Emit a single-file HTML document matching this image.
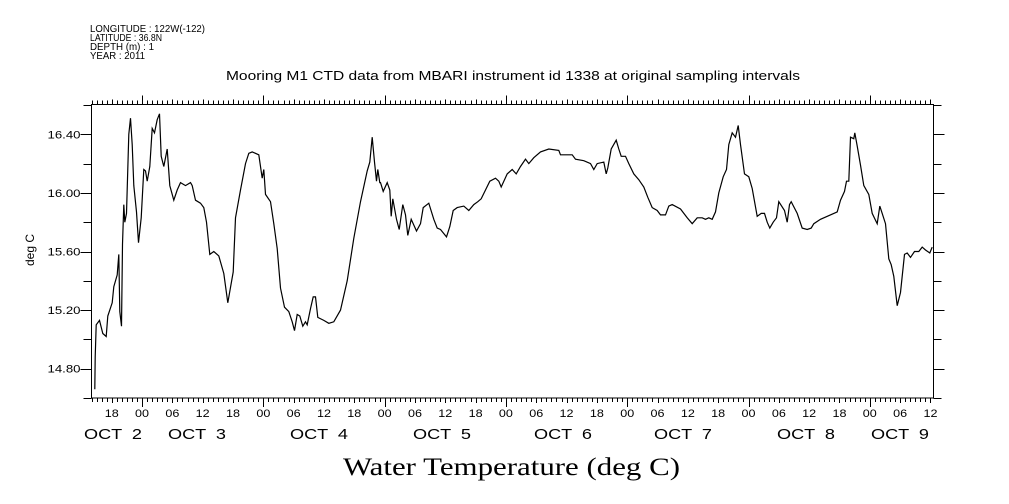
<!DOCTYPE html>
<html><head><meta charset="utf-8"><style>
body{margin:0;background:#fff;}
svg{display:block;}
text{font-family:"Liberation Sans",sans-serif;fill:#000;}
</style></head><body>
<svg id="chart" width="1009" height="504" viewBox="0 0 1009 504" xmlns="http://www.w3.org/2000/svg">
<g font-size="10">
<text x="90" y="32" textLength="115" lengthAdjust="spacingAndGlyphs">LONGITUDE : 122W(-122)</text>
<text x="90" y="41" textLength="72" lengthAdjust="spacingAndGlyphs">LATITUDE : 36.8N</text>
<text x="90" y="50" textLength="64" lengthAdjust="spacingAndGlyphs">DEPTH (m) : 1</text>
<text x="90" y="59" textLength="55" lengthAdjust="spacingAndGlyphs">YEAR : 2011</text>
</g>
<text x="226" y="80" font-size="13" textLength="574" lengthAdjust="spacingAndGlyphs">Mooring M1 CTD data from MBARI instrument id 1338 at original sampling intervals</text>
<text x="0" y="0" font-size="12" text-anchor="middle" transform="translate(34,250) rotate(-90)">deg C</text>
<text x="343" y="475" font-size="25" textLength="337" lengthAdjust="spacingAndGlyphs" style="font-family:'Liberation Serif',serif">Water Temperature (deg C)</text>
<rect x="91.5" y="104.5" width="842" height="293.5" fill="none" stroke="#000" stroke-width="1"/>
<g id="ticks"></g>
<g id="labels"></g>
<path id="line" fill="none" stroke="#000" stroke-width="1.2"/>
</svg>
<script>
const times=[0.65,0.73,0.93,1.58,2.24,2.91,3.23,4.10,4.41,5.09,5.40,5.60,5.94,6.13,6.39,6.59,6.93,7.38,7.72,8.05,8.37,8.90,9.30,9.83,10.35,10.68,11.02,11.54,12.01,12.47,13.00,13.45,13.79,14.31,14.98,15.49,16.28,16.96,17.61,18.60,19.59,19.92,20.58,21.57,22.22,22.75,23.41,24.20,25.19,26.18,26.97,28.04,28.49,29.48,30.47,31.12,31.80,33.10,33.78,34.09,34.43,35.42,36.07,36.74,37.40,38.19,39.04,39.71,40.17,40.70,41.22,41.81,42.34,42.68,43.33,43.87,44.32,44.78,45.96,46.95,47.94,49.27,50.59,51.90,53.23,54.55,55.06,55.54,56.00,56.39,56.65,57.04,57.18,57.72,58.51,59.02,59.30,59.62,60.35,60.88,61.59,62.13,62.58,63.26,64.30,65.10,65.63,66.74,67.73,68.40,69.05,70.24,70.89,71.57,72.36,73.66,74.65,75.64,76.43,77.11,77.96,78.81,79.94,80.59,81.07,82.25,83.24,84.03,84.88,85.87,86.53,87.51,88.84,90.48,92.46,92.80,95.11,95.77,97.41,98.73,99.39,100.06,101.37,101.84,102.16,102.83,103.82,104.33,104.81,105.66,106.32,107.31,108.29,109.28,110.07,110.94,111.93,112.58,113.57,114.23,114.90,116.54,117.87,118.86,119.84,120.83,121.49,122.14,122.81,123.46,124.12,124.99,125.64,126.10,126.77,127.42,127.96,128.41,129.20,130.05,130.72,131.72,132.51,133.16,133.69,134.21,134.88,135.53,135.99,137.12,137.65,138.11,138.44,139.63,140.62,141.61,142.40,142.91,144.24,147.54,148.20,148.99,149.38,149.84,150.18,150.83,151.03,151.50,152.15,152.81,153.80,154.47,155.46,155.97,156.45,157.10,157.75,158.23,158.74,159.41,160.07,160.86,161.39,162.05,162.84,163.69,164.36,165.02,165.87,166.34];
const temps=[14.66,14.88,15.10,15.13,15.04,15.02,15.16,15.25,15.36,15.44,15.58,15.19,15.09,15.65,15.92,15.80,15.86,16.40,16.51,16.33,16.05,15.87,15.66,15.83,16.16,16.15,16.08,16.18,16.44,16.41,16.50,16.54,16.25,16.18,16.30,16.05,15.95,16.02,16.07,16.05,16.07,16.05,15.95,15.93,15.90,15.80,15.58,15.60,15.57,15.45,15.25,15.46,15.83,16.02,16.20,16.27,16.28,16.26,16.10,16.16,15.99,15.94,15.79,15.62,15.35,15.22,15.19,15.12,15.06,15.17,15.16,15.09,15.12,15.10,15.21,15.29,15.29,15.15,15.13,15.11,15.12,15.20,15.40,15.69,15.94,16.15,16.21,16.38,16.21,16.08,16.16,16.07,16.07,16.01,16.07,16.02,15.84,15.96,15.82,15.75,15.92,15.85,15.71,15.82,15.74,15.79,15.90,15.93,15.82,15.76,15.75,15.70,15.77,15.88,15.90,15.91,15.88,15.92,15.94,15.96,16.02,16.08,16.10,16.08,16.04,16.13,16.16,16.13,16.18,16.23,16.20,16.24,16.28,16.30,16.29,16.26,16.26,16.23,16.22,16.20,16.16,16.20,16.21,16.13,16.17,16.30,16.36,16.30,16.25,16.25,16.20,16.13,16.09,16.04,15.97,15.90,15.88,15.85,15.85,15.91,15.92,15.89,15.83,15.79,15.83,15.83,15.82,15.83,15.82,15.87,16.00,16.11,16.16,16.33,16.41,16.38,16.46,16.33,16.13,16.11,16.03,15.84,15.86,15.86,15.80,15.76,15.80,15.83,15.94,15.88,15.80,15.92,15.94,15.86,15.76,15.75,15.76,15.79,15.82,15.87,15.95,16.01,16.08,16.08,16.38,16.37,16.41,16.32,16.19,16.05,15.99,15.86,15.79,15.91,15.86,15.79,15.55,15.51,15.43,15.23,15.32,15.58,15.59,15.56,15.60,15.60,15.63,15.61,15.59,15.63];
const yTickValues=[14.6,14.8,15.0,15.2,15.4,15.6,15.8,16.0,16.2,16.4,16.6];
const yLabelValues=[14.8,15.2,15.6,16.0,16.4];
const yLabelText=["14.80","15.20","15.60","16.00","16.40"];
const hourLabelTimes=[4,10,16,22,28,34,40,46,52,58,64,70,76,82,88,94,100,106,112,118,124,130,136,142,148,154,160,166];
const hourLabelText=["18","00","06","12","18","00","06","12","18","00","06","12","18","00","06","12","18","00","06","12","18","00","06","12","18","00","06","12"];
const dateLabelX=[113,197,319,442,563,683,806,900];
const dateLabelText=["OCT  2","OCT  3","OCT  4","OCT  5","OCT  6","OCT  7","OCT  8","OCT  9"];

const X0=91.5,X1=933.5,T0=0,T1=166.6,Y0=398,Y1=105,V0=14.6,V1=16.6;
const xs=t=>X0+(t-T0)/(T1-T0)*(X1-X0);
const ys=v=>Y0-(v-V0)/(V1-V0)*(Y0-Y1);
const NS='http://www.w3.org/2000/svg';
let d='';
for(let i=0;i<times.length;i++){d+=(i?'L':'M')+xs(times[i]).toFixed(1)+' '+ys(temps[i]).toFixed(1);}
document.getElementById('line').setAttribute('d',d);
const tk=document.getElementById('ticks');
let td='';
for(let h=0;h<=166;h++){
  const x=Math.round(xs(h))+0.5;
  const mid=((h-10)%24===0);
  const six=((h-10)%6===0);
  const L=mid?9:(six?5:4);
  td+=`M${x} 398V${398+L}M${x} 104.5V${104.5-L}`;
}
yTickValues.forEach(v=>{const y=Math.round(ys(v))+0.5;const big=yLabelValues.some(u=>Math.abs(u-v)<1e-6);const L=big?11:8;td+=`M91.5 ${y}H${91.5-L}M933.5 ${y}H${933.5+L}`;});
const tp=document.createElementNS(NS,'path');
tp.setAttribute('d',td);tp.setAttribute('stroke','#000');tp.setAttribute('fill','none');


tk.appendChild(tp);
const lb=document.getElementById('labels');
function addText(x,y,s,size,name,len){
  const t=document.createElementNS(NS,'text');
  t.setAttribute('x',x);t.setAttribute('y',y);t.setAttribute('font-size',size);
  t.setAttribute('text-anchor','middle');t.setAttribute('xml:space','preserve');
  if(len){t.setAttribute('textLength',len);t.setAttribute('lengthAdjust','spacingAndGlyphs');}
  t.style.whiteSpace='pre';t.textContent=s;
  
  
  lb.appendChild(t);return t;
}
yLabelValues.forEach((v,i)=>{const t=addText(64,ys(v)+4,yLabelText[i],11,'y-tick-label',33);});
hourLabelTimes.forEach((h,i)=>addText(xs(h),417,hourLabelText[i],11,'x-hour-label',14));
dateLabelX.forEach((x,i)=>addText(x,439,dateLabelText[i],15,'x-date-label',58));
</script>
</body></html>
